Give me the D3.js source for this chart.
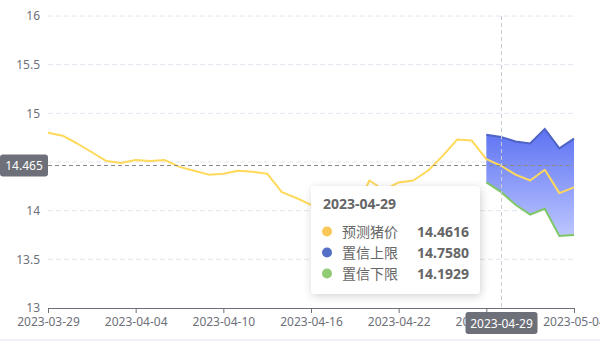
<!DOCTYPE html>
<html>
<head>
<meta charset="utf-8">
<script src="https://cdn.jsdelivr.net/npm/d3@7/dist/d3.min.js"></script>
<style>
html,body{margin:0;padding:0;background:#fff;}
svg{display:block;font-family:"Noto Sans CJK SC","Noto Sans",sans-serif;}
</style>
</head>
<body>
<svg id="c" width="600" height="341"></svg>
<script>
const dates = ["2023-03-29","2023-03-30","2023-03-31","2023-04-01","2023-04-02","2023-04-03","2023-04-04","2023-04-05","2023-04-06","2023-04-07","2023-04-08","2023-04-09","2023-04-10","2023-04-11","2023-04-12","2023-04-13","2023-04-14","2023-04-15","2023-04-16","2023-04-17","2023-04-18","2023-04-19","2023-04-20","2023-04-21","2023-04-22","2023-04-23","2023-04-24","2023-04-25","2023-04-26","2023-04-27","2023-04-28","2023-04-29","2023-04-30","2023-05-01","2023-05-02","2023-05-03","2023-05-04"];
const predicted = [14.80,14.77,14.69,14.60,14.51,14.49,14.52,14.51,14.52,14.45,14.41,14.37,14.38,14.41,14.40,14.38,14.19,14.13,14.06,13.97,13.94,14.00,14.31,14.21,14.29,14.31,14.41,14.56,14.73,14.72,14.53,14.4616,14.37,14.31,14.42,14.18,14.24];
const upper = [null,null,null,null,null,null,null,null,null,null,null,null,null,null,null,null,null,null,null,null,null,null,null,null,null,null,null,null,null,null,14.78,14.758,14.71,14.69,14.84,14.64,14.74];
const lower = [null,null,null,null,null,null,null,null,null,null,null,null,null,null,null,null,null,null,null,null,null,null,null,null,null,null,null,null,null,null,14.29,14.1929,14.06,13.96,14.02,13.74,13.75];
const yTicks = [13,13.5,14,14.5,15,15.5,16];
const xTickLabels = ["2023-03-29","2023-04-04","2023-04-10","2023-04-16","2023-04-22","2023-04-28","2023-05-04"];
const seriesNames = ["预测猪价","置信上限","置信下限"];
const seriesColors = ["#fac858","#5470c6","#91cc75"];
const hoverDate = "2023-04-29";
const pointerValue = 14.465;

const svg = d3.select("#c");
const x = d3.scalePoint().domain(dates).range([48,574]);
const y = d3.scaleLinear().domain([13,16]).range([308,16]);
const L = 48, R = 574;

// bottom border
svg.append("rect").attr("x",0).attr("y",339).attr("width",600).attr("height",2).attr("fill","#eef1fa");

// grid
svg.append("g").selectAll("line").data(yTicks.filter(d=>d>13)).join("line")
  .attr("x1",L).attr("x2",R).attr("y1",d=>y(d)).attr("y2",d=>y(d))
  .attr("stroke","#e0e6f1").attr("stroke-dasharray","5,3");

// y labels
const yAxis = d3.axisLeft(y).tickValues(yTicks).tickSize(0).tickPadding(8).tickFormat(d=>String(d));
const gy = svg.append("g").attr("transform",`translate(${L},0)`).call(yAxis);
gy.select(".domain").remove();
gy.selectAll("text").attr("fill","#6e7079").style("font-size","12px").style("font-family","'Noto Sans',sans-serif");

// x axis
const xAxis = d3.axisBottom(x).tickValues(xTickLabels).tickSize(5).tickPadding(4);
const gx = svg.append("g").attr("transform",`translate(0,308)`).call(xAxis);
gx.select(".domain").attr("stroke","#6e7079").attr("d",`M${L},0.5H${R}`);
gx.selectAll(".tick line").attr("stroke","#6e7079");
gx.selectAll("text").attr("fill","#6e7079").style("font-size","12px").style("font-family","'Noto Sans',sans-serif");

// band area
const defs = svg.append("defs");
const band = dates.map((d,i)=>({d,u:upper[i],l:lower[i]})).filter(o=>o.u!=null);
const grad = defs.append("linearGradient").attr("id","bandGrad")
  .attr("gradientUnits","userSpaceOnUse")
  .attr("x1",0).attr("x2",0).attr("y1",y(d3.max(upper))).attr("y2",y(d3.min(lower.filter(v=>v!=null))));
grad.append("stop").attr("offset","0").attr("stop-color","#5d72f2");
grad.append("stop").attr("offset","1").attr("stop-color","#bcc6ff");
svg.append("path").datum(band)
  .attr("d",d3.area().x(o=>x(o.d)).y0(o=>y(o.l)).y1(o=>y(o.u)))
  .attr("fill","url(#bandGrad)");

const lineGen = d3.line().defined(v=>v[1]!=null).x(v=>x(v[0])).y(v=>y(v[1]));
svg.append("path").datum(dates.map((d,i)=>[d,upper[i]]))
  .attr("d",lineGen).attr("fill","none").attr("stroke","#4f63c4").attr("stroke-width",2);
svg.append("path").datum(dates.map((d,i)=>[d,lower[i]]))
  .attr("d",lineGen).attr("fill","none").attr("stroke","#7ec765").attr("stroke-width",2);
svg.append("path").datum(dates.map((d,i)=>[d,predicted[i]]))
  .attr("d",lineGen).attr("fill","none").attr("stroke","#ffd95a").attr("stroke-width",2).attr("stroke-linejoin","round");

// axis pointers
const hx = Math.round(x(hoverDate))+0.5;
svg.append("line").attr("x1",hx).attr("x2",hx).attr("y1",16).attr("y2",308)
  .attr("stroke","#c9ccd8").attr("stroke-dasharray","4,3");
const py = Math.round(y(pointerValue))+0.5;
svg.append("line").attr("x1",L).attr("x2",R).attr("y1",py).attr("y2",py)
  .attr("stroke","#8a8a8a").attr("stroke-dasharray","4,3");

// y pointer label
const yl = svg.append("g");
yl.append("rect").attr("x",0).attr("y",py-11).attr("width",48).attr("height",22).attr("rx",3).attr("fill","#6e7079");
yl.append("text").attr("x",24).attr("y",py+4.5).attr("text-anchor","middle").attr("fill","#fff")
  .style("font-size","12px").style("font-family","'Noto Sans',sans-serif").text(String(pointerValue));

// x pointer label
const xl = svg.append("g");
xl.append("rect").attr("x",hx-36).attr("y",312).attr("width",72).attr("height",22).attr("rx",3).attr("fill","#6e7079");
xl.append("text").attr("x",hx).attr("y",327.5).attr("text-anchor","middle").attr("fill","#fff")
  .style("font-size","12px").style("font-family","'Noto Sans',sans-serif").text(hoverDate);

// tooltip
const f = defs.append("filter").attr("id","sh").attr("x","-20%").attr("y","-20%").attr("width","140%").attr("height","140%");
f.append("feDropShadow").attr("dx",1).attr("dy",2).attr("stdDeviation",4).attr("flood-color","#000").attr("flood-opacity",0.18);
const tt = svg.append("g").attr("transform","translate(311,186)");
tt.append("rect").attr("width",169).attr("height",108).attr("rx",4).attr("fill","#fff").attr("filter","url(#sh)");
tt.append("text").attr("x",12).attr("y",23).attr("fill","#666").style("font-size","14px").style("font-weight","bold")
  .style("font-family","'Noto Sans',sans-serif").text(hoverDate);
const hi = dates.indexOf(hoverDate);
const vals = [predicted[hi],upper[hi],lower[hi]];
seriesNames.forEach((n,k)=>{
  const cy = 45.5 + k*21;
  tt.append("circle").attr("cx",16).attr("cy",cy).attr("r",5).attr("fill",seriesColors[k]);
  tt.append("text").attr("x",31).attr("y",cy+5).attr("fill","#666").style("font-size","14px").text(n);
  tt.append("text").attr("x",158).attr("y",cy+5).attr("text-anchor","end").attr("fill","#666")
    .style("font-size","14px").style("font-weight","bold").style("font-family","'Noto Sans',sans-serif").text(vals[k].toFixed(4));
});
</script>
</body>
</html>
